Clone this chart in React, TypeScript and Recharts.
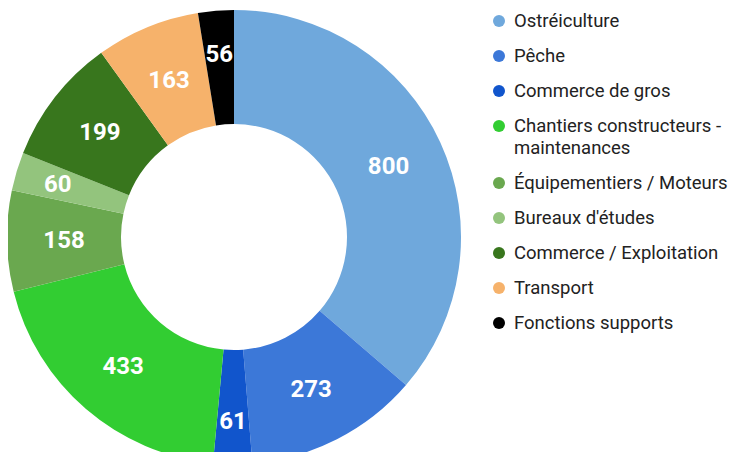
import { PieChart, Pie, Cell, Legend } from "recharts";

const categories = [
  "Ostréiculture",
  "Pêche",
  "Commerce de gros",
  "Chantiers constructeurs - maintenances",
  "Équipementiers / Moteurs",
  "Bureaux d'études",
  "Commerce / Exploitation",
  "Transport",
  "Fonctions supports",
];
const values = [800, 273, 61, 433, 158, 60, 199, 163, 56];
const COLORS = [
  "#6fa8dc",
  "#3c78d8",
  "#1155cc",
  "#32cd32",
  "#6aa84f",
  "#93c47d",
  "#38761d",
  "#f6b26b",
  "#000000",
];

const data = categories.map((name, i) => ({ name, value: values[i] }));
const RAD = Math.PI / 180;

function renderLabel(props: any) {
  const { cx, cy, midAngle, innerRadius, outerRadius, value, percent } = props;
  // narrow slices: push the label outward where the slice is wider
  const r = (innerRadius + outerRadius) / 2 + (percent < 0.03 ? 14 : 0);
  const x = cx + r * Math.cos(-midAngle * RAD);
  const y = cy + r * Math.sin(-midAngle * RAD);
  return (
    <text
      x={x}
      y={y}
      fill="#fff"
      textAnchor="middle"
      dominantBaseline="central"
      fontSize={24}
      fontWeight={700}
      fontFamily="Roboto"
    >
      {value}
    </text>
  );
}

function LegendList() {
  return (
    <div style={{ fontFamily: "Roboto", fontSize: 18.5, color: "#222", width: 250 }}>
      {categories.map((c, i) => (
        <div key={c} style={{ display: "flex", alignItems: "flex-start", marginBottom: 13, lineHeight: "22px" }}>
          <span
            style={{
              width: 12,
              height: 12,
              borderRadius: 6,
              background: COLORS[i],
              marginTop: 5,
              marginLeft: 3,
              marginRight: 9,
              flexShrink: 0,
            }}
          />
          <span style={{ width: 224, whiteSpace: "normal" }}>{c}</span>
        </div>
      ))}
    </div>
  );
}

export default function App() {
  return (
    <div style={{ margin: -8 }}>
      <PieChart width={738} height={460} margin={{ top: 0, right: 0, bottom: 0, left: 0 }}>
        <Pie
          data={data}
          dataKey="value"
          nameKey="name"
          cx={234}
          cy={237}
          innerRadius={113}
          outerRadius={227}
          startAngle={90}
          endAngle={-270}
          stroke="none"
          label={renderLabel}
          labelLine={false}
          isAnimationActive={false}
        >
          {data.map((_, i) => (
            <Cell key={i} fill={COLORS[i]} />
          ))}
        </Pie>
        <Legend
          layout="vertical"
          content={() => <LegendList />}
          wrapperStyle={{ position: "absolute", left: 490, top: 10, width: 250, overflow: "visible" }}
        />
      </PieChart>
    </div>
  );
}
